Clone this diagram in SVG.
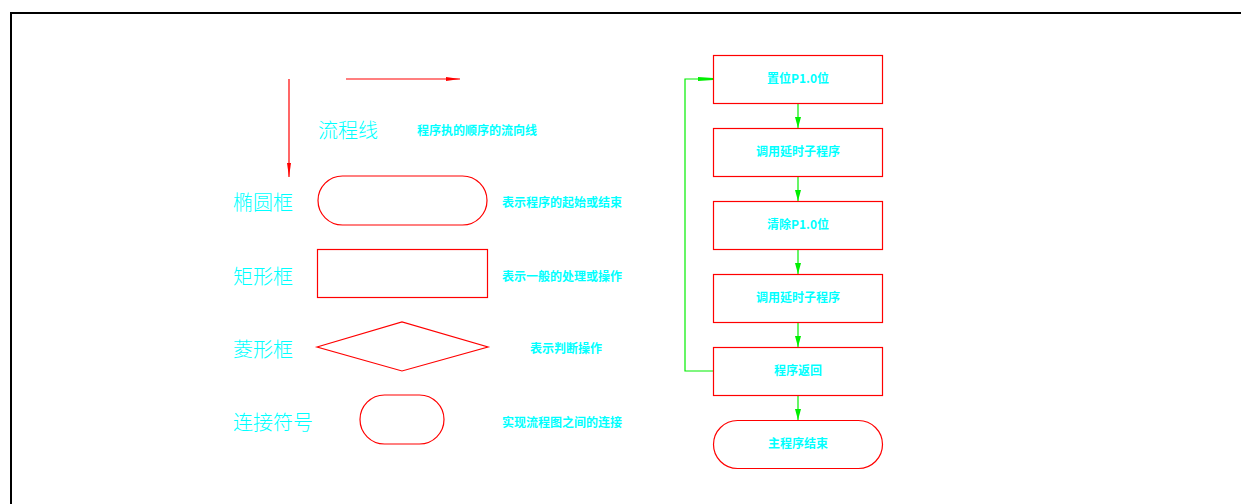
<svg xmlns="http://www.w3.org/2000/svg" width="1241" height="504" viewBox="0 0 1241 504">
<style>
  .bg{fill:#ffffff}
  .frame{fill:none;stroke:#000000;stroke-width:2}
  .shape{fill:none;stroke:#ff0000;stroke-width:1.2}
  .red{stroke:#ff0000;stroke-width:1.2;fill:none}
  .green{stroke:#00ee00;stroke-width:1.2;fill:none}
  .big{font-family:"Noto Sans CJK SC","Liberation Sans",sans-serif;font-size:20px;font-weight:300;fill:#00ffff;dominant-baseline:central}
  .small{font-family:"Noto Sans CJK SC","Liberation Sans",sans-serif;font-size:12px;font-weight:700;fill:#00ffff;dominant-baseline:central}
  .node{font-family:"Noto Sans CJK SC","Liberation Sans",sans-serif;font-size:12px;font-weight:700;fill:#00ffff;dominant-baseline:central;text-anchor:middle}
</style>
<defs>
  <marker id="redArrow" viewBox="0 0 14 4" refX="14" refY="2" markerWidth="14" markerHeight="4" markerUnits="userSpaceOnUse" orient="auto">
    <path d="M0,0 L14,2 L0,4 Z" fill="#ff0000"/>
  </marker>
  <marker id="greenArrow" viewBox="0 0 11 6" refX="11" refY="3" markerWidth="11" markerHeight="6" markerUnits="userSpaceOnUse" orient="auto">
    <path d="M0,0 L11,3 L0,6 Z" fill="#00ee00"/>
  </marker>
  <marker id="greenArrowFlat" viewBox="0 0 15 4" refX="15" refY="2" markerWidth="15" markerHeight="4" markerUnits="userSpaceOnUse" orient="auto">
    <path d="M0,0 L15,1 L15,3 L0,4 Z" fill="#00ee00"/>
  </marker>
</defs>
<rect class="bg" x="0" y="0" width="1241" height="504"/>
<path class="frame" d="M11,504 L11,13 L1241,13"/>

<g id="connectors">
  <line class="red" x1="346" y1="79" x2="460" y2="79" marker-end="url(#redArrow)"/>
  <line class="red" x1="289" y1="79" x2="289" y2="177" marker-end="url(#redArrow)"/>
  <line class="green" x1="798" y1="104" x2="798" y2="128" marker-end="url(#greenArrow)"/>
  <line class="green" x1="798" y1="177" x2="798" y2="201" marker-end="url(#greenArrow)"/>
  <line class="green" x1="798" y1="250" x2="798" y2="274" marker-end="url(#greenArrow)"/>
  <line class="green" x1="798" y1="323" x2="798" y2="347" marker-end="url(#greenArrow)"/>
  <line class="green" x1="798" y1="396" x2="798" y2="420" marker-end="url(#greenArrow)"/>
  <path class="green" d="M713,371 L685,371 L685,79 L713,79" marker-end="url(#greenArrowFlat)"/>
</g>

<g id="legend-flowline">
  <text class="big" x="318" y="129">流程线</text>
  <text class="small" x="417" y="129">程序执的顺序的流向线</text>
</g>
<g id="legend-ellipse">
  <rect class="shape" x="318" y="176" width="169" height="49" rx="24.5" ry="24.5"/>
  <text class="big" x="233" y="201">椭圆框</text>
  <text class="small" x="502" y="201">表示程序的起始或结束</text>
</g>
<g id="legend-rect">
  <rect class="shape" x="317.5" y="249.5" width="170" height="48"/>
  <text class="big" x="233" y="275">矩形框</text>
  <text class="small" x="502" y="275">表示一般的处理或操作</text>
</g>
<g id="legend-diamond">
  <polygon class="shape" points="317,347 402,322 488,347 402,371"/>
  <text class="big" x="233" y="348">菱形框</text>
  <text class="small" x="530" y="347">表示判断操作</text>
</g>
<g id="legend-connector">
  <rect class="shape" x="360" y="395" width="84" height="49" rx="24.5" ry="24.5"/>
  <text class="big" x="233" y="421">连接符号</text>
  <text class="small" x="502" y="421">实现流程图之间的连接</text>
</g>

<g id="n1">
  <rect class="shape" x="713.5" y="55.5" width="169" height="48"/>
  <text class="node" x="798" y="77">置位P1.0位</text>
</g>
<g id="n2">
  <rect class="shape" x="713.5" y="128.5" width="169" height="48"/>
  <text class="node" x="798" y="150">调用延时子程序</text>
</g>
<g id="n3">
  <rect class="shape" x="713.5" y="201.5" width="169" height="48"/>
  <text class="node" x="798" y="223">清除P1.0位</text>
</g>
<g id="n4">
  <rect class="shape" x="713.5" y="274.5" width="169" height="48"/>
  <text class="node" x="798" y="296">调用延时子程序</text>
</g>
<g id="n5">
  <rect class="shape" x="713.5" y="347.5" width="169" height="48"/>
  <text class="node" x="798" y="369">程序返回</text>
</g>
<g id="n6">
  <rect class="shape" x="713.5" y="420.5" width="169" height="48" rx="24" ry="24"/>
  <text class="node" x="798" y="442">主程序结束</text>
</g>
</svg>
